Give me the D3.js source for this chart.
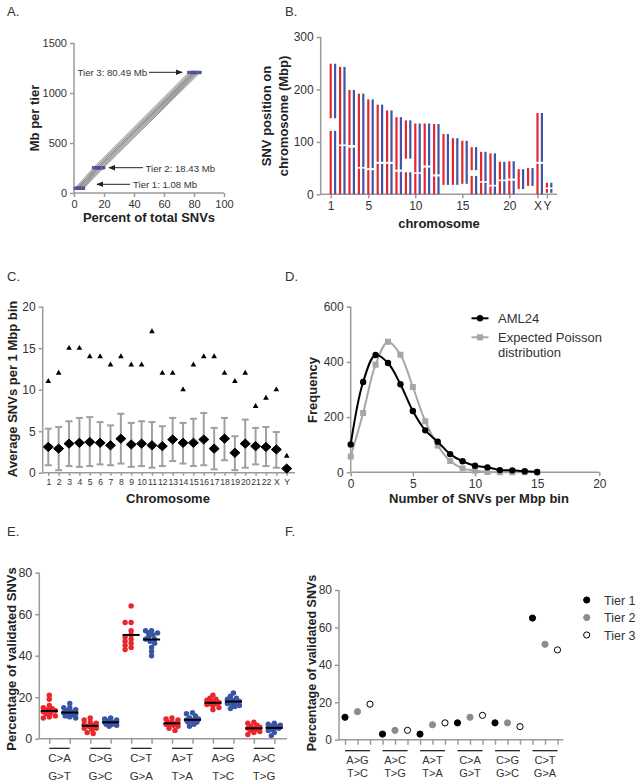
<!DOCTYPE html>
<html><head><meta charset="utf-8">
<script src="https://cdn.jsdelivr.net/npm/d3@7"></script>
<style>body{margin:0;background:#fff}svg{display:block;font-family:"Liberation Sans",Arial,Helvetica,sans-serif}</style>
</head><body><svg id="c" width="640" height="783"></svg>
<script>
// ---------- Panel A data ----------
const tierMb = [47, 253, 1205];
const tier1Pct = [0.8, 1.6, 2.1, 2.9, 3.3, 3.8, 4.4, 4.9, 5.3, 5.8, 6.4, 2.5];
const tier2Pct = [13.0, 14.0, 14.5, 15.2, 16.0, 16.5, 17.0, 17.8, 18.3, 19.0, 19.8, 15.8];
const tier3Pct = [76.5, 77.5, 78.2, 79.0, 79.8, 80.5, 81.0, 81.8, 82.5, 83.2, 84.0, 80.0];
const tierNotes = ["Tier 1: 1.08 Mb", "Tier 2: 18.43 Mb", "Tier 3: 80.49 Mb"];
const aXTicks = [0, 20, 40, 60, 80, 100];
const aYTicks = [0, 500, 1000, 1500];

// ---------- Panel B data ----------
const chrNames = ["1","2","3","4","5","6","7","8","9","10","11","12","13","14","15","16","17","18","19","20","21","22","X","Y"];
const chrStart = [0,0,0,0,0,0,0,0,0,0,0,0,18,18,20,0,0,0,0,0,10,16,0,3];
const chrEnd   = [249,243,199,192,181,171,160,147,141,135,135,134,115,107,102,90,81,78,62,63,48,50,155,22];
const cenStart = [121,92,89,49,46,58,58,43,42,39,51,34,null,null,null,35,22,15,25,26,null,null,58,10];
const cenEnd   = [145,95,94,52,50,62,62,47,68,42,55,38,null,null,null,46,25,18,28,30,null,null,62,13];
const bXTickVals = [1,5,10,15,20,23,24];
const bXTickLabels = ["1","5","10","15","20","X","Y"];
const bYTicks = [0,100,200,300];

// ---------- Panel C data ----------
const cMax   = [11,12,15,15,14,14,13,14,13,13,17,12,12,10,13,14,14,12,11,12,8,9,10,2];
const cMean  = [3.1,2.9,3.5,3.6,3.7,3.6,3.3,4.1,3.4,3.5,3.3,3.2,4.0,3.6,3.6,4.0,2.9,4.1,2.4,3.5,3.2,3.1,2.8,0.5];
const cUpper = [5.3,5.5,6.2,6.6,6.7,6.1,5.7,7.1,6.0,6.2,6.1,5.6,6.6,6.0,6.5,7.2,5.4,6.6,4.4,6.4,5.4,5.5,4.9,0.5];
const cLower = [0.9,0.3,0.8,0.7,0.8,1.0,0.9,1.1,0.7,0.8,0.6,0.8,1.4,1.1,0.8,0.9,0.4,1.5,0.3,0.6,1.0,0.8,0.6,0.5];
const cYTicks = [0,5,10,15,20];

// ---------- Panel D data ----------
const dBins    = [0,1,2,3,4,5,6,7,8,9,10,11,12,13,14,15];
const dAML24   = [101,327,425,396,319,222,152,111,66,40,24,18,8,7,4,1];
const dPoisson = [57,215,390,473,426,309,185,97,41,14,6,1,0,0,0,0];
const dXTicks = [0,5,10,15,20];
const dYTicks = [0,200,400,600];
const dLegend = ["AML24", "Expected Poisson", "distribution"];

// ---------- Panel E data ----------
const eTop = ["C>A","C>G","C>T","A>T","A>G","A>C"];
const eBottom = ["G>T","G>C","G>A","T>A","T>C","T>G"];
const eRed = [
  [21,19,16,15,14.5,14,13.5,13,12.5,12,11,10.5,10],
  [10,9,8,7.5,7,6.5,6,5,4.5,3,2.5,5],
  [64,56,56,52,50,49,48,47,46,45,44,43],
  [10,9.5,9,8,8,7.5,7,7,6.5,6,5,4],
  [21,19.5,19,18.5,18,17.5,17,17,16.5,16,15,14],
  [8,7.5,6.5,6,5.5,5,5,4.5,4,3.5,3,2]
];
const eBlue = [
  [17,15,15,14,13.5,13,12.5,12,12,11.5,11,10.5,10],
  [10,9.5,9,8.5,8,8,7.5,7.5,7,7,6.5,6],
  [52,52,51,51,50,49,48,48,47,46,44,42,40],
  [12.5,12,11,10,9.5,9,9,8.5,8,8,7,6],
  [22,20.5,19.5,19,18.5,18,17.5,17,16.5,16,15.5,14.5],
  [7.5,7,6.5,6,6,5.5,5,5,4.5,4,3,1.5]
];
const eRedMean = [13.4,6.2,50.0,7.4,17.3,5.0];
const eBlueMean = [12.6,7.9,47.8,9.1,17.9,5.2];
const eYTicks = [0,20,40,60,80];

// ---------- Panel F data ----------
const fTop = ["A>G","A>C","A>T","C>A","C>G","C>T"];
const fBottom = ["T>C","T>G","T>A","G>T","G>C","G>A"];
const fTier1 = [12,3,3,9,9,65];
const fTier2 = [15,5,8,12,9,51];
const fTier3 = [19,5,9,13,7,48];
const fTiers = ["Tier 1","Tier 2","Tier 3"];
const fYTicks = [0,20,40,60,80];

// ---------- helpers ----------
const svg = d3.select("#c");
const AX = "#9b9b9b", TXT = "#333";
function styleAxis(g, fs, domainD) {
  g.select(".domain").attr("d", domainD).attr("stroke", AX).attr("stroke-width", 1.5);
  g.selectAll(".tick line").attr("stroke", AX).attr("stroke-width", 1.5);
  g.selectAll(".tick text").attr("fill", TXT).attr("font-size", fs).attr("font-family", null);
}
function vlabel(x, y, t, fs) {
  svg.append("text").attr("transform", `translate(${x},${y}) rotate(-90)`)
    .attr("text-anchor", "middle").attr("font-weight", "bold").attr("font-size", fs).attr("fill", "#222").text(t);
}
function hlabel(x, y, t, fs) {
  svg.append("text").attr("x", x).attr("y", y).attr("text-anchor", "middle")
    .attr("font-weight", "bold").attr("font-size", fs).attr("fill", "#222").text(t);
}
function letter(x, y, t) {
  svg.append("text").attr("x", x).attr("y", y).attr("font-size", 13).attr("fill", TXT).text(t);
}
svg.append("defs").append("marker").attr("id", "arr").attr("viewBox", "0 0 10 10")
  .attr("refX", 9).attr("refY", 5).attr("markerWidth", 7).attr("markerHeight", 7)
  .attr("orient", "auto").attr("markerUnits", "userSpaceOnUse")
  .append("path").attr("d", "M0,1L10,5L0,9Z").attr("fill", "#222");

// ================= Panel A =================
letter(7, 16, "A.");
{
  const x = d3.scaleLinear().domain([0,100]).range([74,224]);
  const y = d3.scaleLinear().domain([0,1500]).range([193,43]);
  const gx = svg.append("g").attr("transform", "translate(0,193)")
    .call(d3.axisBottom(x).tickValues(aXTicks).tickSize(4).tickPadding(3).tickSizeOuter(0));
  styleAxis(gx, 11, "M74,0H224");
  const gy = svg.append("g").attr("transform", "translate(74,0)")
    .call(d3.axisLeft(y).tickValues(aYTicks).tickFormat(d3.format("d")).tickSize(4).tickPadding(3).tickSizeOuter(0));
  styleAxis(gy, 11, "M0,193V43");
  const line = d3.line().x(d => x(d[0])).y(d => y(d[1]));
  tier1Pct.forEach((p, i) => {
    svg.append("path").attr("d", line([[p, tierMb[0]], [tier2Pct[i], tierMb[1]], [tier3Pct[i], tierMb[2]]]))
      .attr("fill", "none").attr("stroke", "#8a8a8a").attr("stroke-width", 1).attr("opacity", 0.85);
  });
  [tier1Pct, tier2Pct, tier3Pct].forEach((arr, t) => {
    arr.forEach((p, i) => {
      svg.append("rect").attr("x", x(p) - 1.6).attr("y", y(tierMb[t]) - 1.6).attr("width", 3.2).attr("height", 3.2)
        .attr("fill", i % 4 === 1 ? "#c0507a" : "#3d54a8");
    });
  });
  const notes = [
    {t: tierNotes[2], tx: 147, ty: 76, anchor: "end", x1: 149, x2: 182, ay: 72.3},
    {t: tierNotes[1], tx: 145.5, ty: 171.5, anchor: "start", x1: 143, x2: 109, ay: 167.7},
    {t: tierNotes[0], tx: 133, ty: 188, anchor: "start", x1: 130, x2: 97, ay: 184.3}
  ];
  notes.forEach(n => {
    svg.append("text").attr("x", n.tx).attr("y", n.ty).attr("text-anchor", n.anchor)
      .attr("font-size", 9.6).attr("fill", TXT).text(n.t);
    svg.append("line").attr("x1", n.x1).attr("x2", n.x2).attr("y1", n.ay).attr("y2", n.ay)
      .attr("stroke", "#222").attr("stroke-width", 1).attr("marker-end", "url(#arr)");
  });
  hlabel(149, 222, "Percent of total SNVs", 13);
  vlabel(39, 118, "Mb per tier", 13);
}

// ================= Panel B =================
letter(285, 16, "B.");
{
  const x = d3.scaleLinear().domain([1,24]).range([330.7,546.9]);
  const y = d3.scaleLinear().domain([0,300]).range([194.3,37]);
  const gx = svg.append("g").attr("transform", "translate(0,194.3)")
    .call(d3.axisBottom(x).tickValues(bXTickVals).tickFormat((d,i) => bXTickLabels[i]).tickSize(4).tickPadding(3).tickSizeOuter(0));
  styleAxis(gx, 12, "M320.7,0H557");
  const gy = svg.append("g").attr("transform", "translate(320.7,0)")
    .call(d3.axisLeft(y).tickValues(bYTicks).tickSize(4).tickPadding(3).tickSizeOuter(0));
  styleAxis(gy, 12, "M0,194.3V37");
  chrNames.forEach((c, i) => {
    const segs = cenStart[i] == null ? [[chrStart[i], chrEnd[i]]]
      : [[chrStart[i], cenStart[i]], [cenEnd[i], chrEnd[i]]];
    [["#e2282d", 0], ["#3f56a6", 4.4]].forEach(([col, off]) => {
      segs.forEach(s => {
        svg.append("rect").attr("x", x(i + 1) + off - 1.1).attr("width", 2.2)
          .attr("y", y(s[1])).attr("height", y(s[0]) - y(s[1])).attr("fill", col);
      });
    });
  });
  hlabel(439, 228, "chromosome", 13);
  vlabel(271, 116, "SNV position on", 13);
  vlabel(288, 116, "chromosome (Mbp)", 13);
}

// ================= Panel C =================
letter(7, 281, "C.");
{
  const x = d3.scalePoint().domain(chrNames).range([48.3,286.7]);
  const y = d3.scaleLinear().domain([0,20]).range([472.7,306.7]);
  const gx = svg.append("g").attr("transform", "translate(0,472.7)")
    .call(d3.axisBottom(x).tickSize(3).tickPadding(3).tickSizeOuter(0));
  styleAxis(gx, 8.6, "M42.7,0H295");
  const gy = svg.append("g").attr("transform", "translate(42.7,0)")
    .call(d3.axisLeft(y).tickValues(cYTicks).tickSize(4).tickPadding(3).tickSizeOuter(0));
  styleAxis(gy, 12, "M0,472.7V306.7");
  chrNames.forEach((c, i) => {
    const cx = x(c);
    if (cUpper[i] > cLower[i]) {
      const eb = svg.append("g").attr("stroke", "#a0a0a0").attr("stroke-width", 2);
      eb.append("line").attr("x1", cx).attr("x2", cx).attr("y1", y(cUpper[i])).attr("y2", y(cLower[i]));
      eb.append("line").attr("x1", cx - 3.5).attr("x2", cx + 3.5).attr("y1", y(cUpper[i])).attr("y2", y(cUpper[i]));
      eb.append("line").attr("x1", cx - 3.5).attr("x2", cx + 3.5).attr("y1", y(cLower[i])).attr("y2", y(cLower[i]));
    }
    svg.append("path").attr("transform", `translate(${cx},${y(cMean[i])})`)
      .attr("d", "M0,-4.6L5,0L0,4.6L-5,0Z").attr("fill", "#000").attr("stroke", "#000").attr("stroke-width", 1).attr("stroke-linejoin", "round");
    svg.append("path").attr("transform", `translate(${cx},${y(cMax[i])})`)
      .attr("d", d3.symbol(d3.symbolTriangle, 14)()).attr("fill", "#000");
  });
  hlabel(168, 503, "Chromosome", 13);
  vlabel(17, 389, "Average SNVs per 1 Mbp bin", 13);
}

// ================= Panel D =================
letter(285, 281, "D.");
{
  const x = d3.scaleLinear().domain([0,20]).range([350.7,599.3]);
  const y = d3.scaleLinear().domain([0,600]).range([472.3,306.7]);
  const gx = svg.append("g").attr("transform", "translate(0,472.3)")
    .call(d3.axisBottom(x).tickValues(dXTicks).tickSize(4).tickPadding(3).tickSizeOuter(0));
  styleAxis(gx, 12, "M350.7,0H599.3");
  const gy = svg.append("g").attr("transform", "translate(350.7,0)")
    .call(d3.axisLeft(y).tickValues(dYTicks).tickSize(4).tickPadding(3).tickSizeOuter(0));
  styleAxis(gy, 12, "M0,472.3V306.7");
  const ln = d3.line().x((d, i) => x(dBins[i])).y(d => y(d)).curve(d3.curveCatmullRom.alpha(0.5));
  svg.append("path").attr("d", ln(dPoisson)).attr("fill", "none").attr("stroke", "#a6a6a6").attr("stroke-width", 2);
  dPoisson.forEach((v, i) => svg.append("rect").attr("x", x(dBins[i]) - 3).attr("y", y(v) - 3).attr("width", 6).attr("height", 6).attr("fill", "#a6a6a6"));
  svg.append("path").attr("d", ln(dAML24)).attr("fill", "none").attr("stroke", "#000").attr("stroke-width", 2);
  dAML24.forEach((v, i) => svg.append("circle").attr("cx", x(dBins[i])).attr("cy", y(v)).attr("r", 3.2).attr("fill", "#000"));
  // legend
  svg.append("line").attr("x1", 471.5).attr("x2", 488.5).attr("y1", 318.3).attr("y2", 318.3).attr("stroke", "#000").attr("stroke-width", 2);
  svg.append("circle").attr("cx", 480).attr("cy", 318.3).attr("r", 3.2).attr("fill", "#000");
  svg.append("line").attr("x1", 471.5).attr("x2", 488.5).attr("y1", 337.3).attr("y2", 337.3).attr("stroke", "#a6a6a6").attr("stroke-width", 2);
  svg.append("rect").attr("x", 477).attr("y", 334.3).attr("width", 6).attr("height", 6).attr("fill", "#a6a6a6");
  svg.append("text").attr("x", 498).attr("y", 322.8).attr("font-size", 13).attr("fill", TXT).text(dLegend[0]);
  svg.append("text").attr("x", 498).attr("y", 341.8).attr("font-size", 13).attr("fill", TXT).text(dLegend[1]);
  svg.append("text").attr("x", 498).attr("y", 357.3).attr("font-size", 13).attr("fill", TXT).text(dLegend[2]);
  hlabel(479, 503, "Number of SNVs per Mbp bin", 13);
  vlabel(317, 390, "Frequency", 13);
}

// ================= Panel E =================
letter(7, 536, "E.");
{
  const cols = d3.range(12);
  const x = d3.scalePoint().domain(cols).range([49.3,274.3]);
  const y = d3.scaleLinear().domain([0,80]).range([738.7,572.7]);
  const gx = svg.append("g").attr("transform", "translate(0,738.7)")
    .call(d3.axisBottom(x).tickFormat("").tickSize(5).tickSizeOuter(0));
  styleAxis(gx, 11, "M39.3,0H287");
  const gy = svg.append("g").attr("transform", "translate(39.3,0)")
    .call(d3.axisLeft(y).tickValues(eYTicks).tickSize(4).tickPadding(3).tickSizeOuter(0));
  styleAxis(gy, 12.5, "M0,738.7V572.7");
  const r = 2.7;
  // compact swarm: offsets limited to +-6 px, overlap allowed
  function swarm(vals, cx) {
    const placed = [];
    const sorted = vals.slice().sort((a, b) => b - a);
    const offs = [0, -3, 3, -6, 6, -1.5, 1.5, -4.5, 4.5];
    sorted.forEach(v => {
      const py = y(v);
      let best = cx, bestD = -1;
      for (const o of offs) {
        const px = cx + o;
        const d = placed.length ? d3.min(placed, p => Math.hypot(p[0] - px, p[1] - py)) : 99;
        if (d >= 1.5 * r) { best = px; bestD = d; break; }
        if (d > bestD) { bestD = d; best = px; }
      }
      placed.push([best, py]);
    });
    return placed;
  }
  eTop.forEach((g, i) => {
    [[eRed[i], eRedMean[i], "#e8262b", 2 * i], [eBlue[i], eBlueMean[i], "#3a55a6", 2 * i + 1]].forEach(([vals, m, col, c]) => {
      swarm(vals, x(c)).forEach(p => svg.append("circle").attr("cx", p[0]).attr("cy", p[1]).attr("r", r).attr("fill", col));
      svg.append("line").attr("x1", x(c) - 8.5).attr("x2", x(c) + 8.5).attr("y1", y(m)).attr("y2", y(m)).attr("stroke", "#000").attr("stroke-width", 2);
    });
    const a = x(2 * i), b = x(2 * i + 1), mid = (a + b) / 2;
    svg.append("line").attr("x1", a).attr("x2", b).attr("y1", 748.3).attr("y2", 748.3).attr("stroke", "#111").attr("stroke-width", 1.2);
    svg.append("text").attr("x", mid).attr("y", 762).attr("text-anchor", "middle").attr("font-size", 11.5).attr("fill", TXT).text(g);
    svg.append("text").attr("x", mid).attr("y", 779.5).attr("text-anchor", "middle").attr("font-size", 11.5).attr("fill", TXT).text(eBottom[i]);
  });
  vlabel(16, 659, "Percentage of validated SNVs", 13);
}

// ================= Panel F =================
letter(285, 536, "F.");
{
  const cols = d3.range(18);
  const x = d3.scalePoint().domain(cols).range([345,557.5]);
  const y = d3.scaleLinear().domain([0,80]).range([739.7,590]);
  const gx = svg.append("g").attr("transform", "translate(0,739.7)")
    .call(d3.axisBottom(x).tickFormat("").tickSize(5).tickSizeOuter(0));
  styleAxis(gx, 11, "M339,0H563.3");
  const gy = svg.append("g").attr("transform", "translate(339,0)")
    .call(d3.axisLeft(y).tickValues(fYTicks).tickSize(4).tickPadding(3).tickSizeOuter(0));
  styleAxis(gy, 12, "M0,739.7V590");
  const styles = [{fill: "#000", stroke: "#000"}, {fill: "#8c8c8c", stroke: "#8c8c8c"}, {fill: "#fff", stroke: "#000"}];
  fTop.forEach((g, i) => {
    [fTier1[i], fTier2[i], fTier3[i]].forEach((v, t) => {
      svg.append("circle").attr("cx", x(3 * i + t)).attr("cy", y(v)).attr("r", 3.1)
        .attr("fill", styles[t].fill).attr("stroke", styles[t].stroke).attr("stroke-width", 1);
    });
    const a = x(3 * i), b = x(3 * i + 2), mid = x(3 * i + 1);
    svg.append("line").attr("x1", a).attr("x2", b).attr("y1", 750.7).attr("y2", 750.7).attr("stroke", "#111").attr("stroke-width", 1.2);
    svg.append("text").attr("x", mid).attr("y", 763.5).attr("text-anchor", "middle").attr("font-size", 11).attr("fill", TXT).text(g);
    svg.append("text").attr("x", mid).attr("y", 777).attr("text-anchor", "middle").attr("font-size", 11).attr("fill", TXT).text(fBottom[i]);
  });
  fTiers.forEach((t, k) => {
    const ly = 600 + k * 17.5;
    svg.append("circle").attr("cx", 586.7).attr("cy", ly).attr("r", 3.1)
      .attr("fill", styles[k].fill).attr("stroke", styles[k].stroke).attr("stroke-width", 1);
    svg.append("text").attr("x", 604).attr("y", ly + 4.5).attr("font-size", 12.5).attr("fill", TXT).text(t);
  });
  vlabel(316, 663, "Percentage of validated SNVs", 12.5);
}
</script></body></html>
